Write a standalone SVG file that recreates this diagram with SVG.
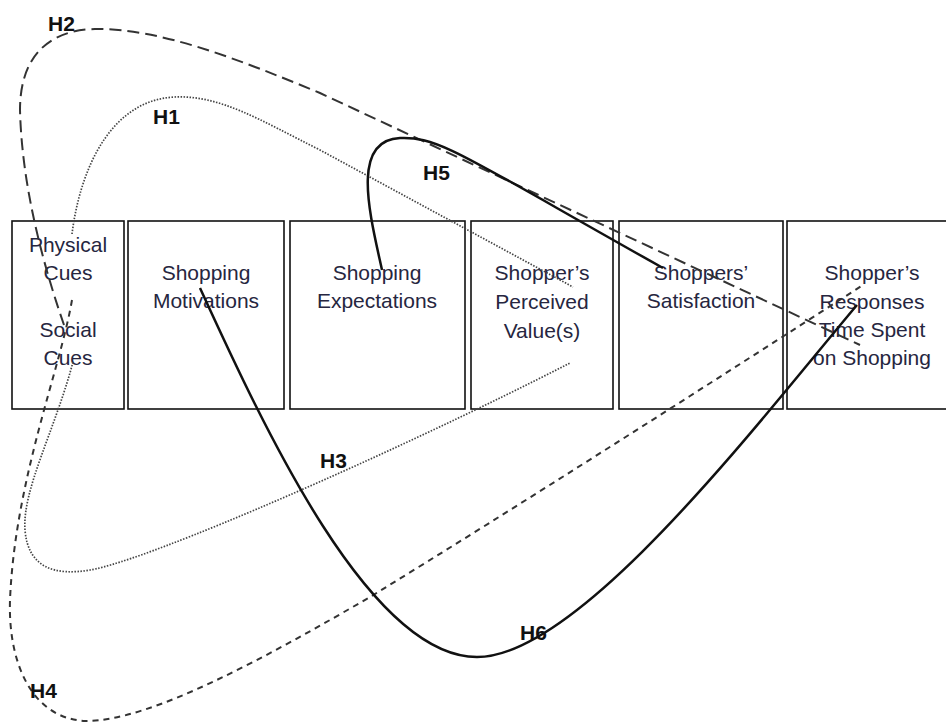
<svg xmlns="http://www.w3.org/2000/svg" width="946" height="722" viewBox="0 0 946 722">
<style>
.box{fill:#fff;stroke:#111;stroke-width:1.6}
.t{font-family:"Liberation Sans",Arial,sans-serif;font-size:21px;fill:#262640;text-anchor:middle}
.lbl{font-family:"Liberation Sans",Arial,sans-serif;font-size:21px;font-weight:bold;fill:#111}
.e{fill:none;stroke-linecap:butt}
.dot{stroke:#444;stroke-width:1.7;stroke-dasharray:1.5 1.5}
.ldash{stroke:#333;stroke-width:2;stroke-dasharray:12 6}
.sdash{stroke:#333;stroke-width:2;stroke-dasharray:6 5}
.solid{stroke:#111;stroke-width:2.5}
</style>
<rect width="946" height="722" fill="#fff"/>
<g id="nodes">
<g id="n-cues"><rect class="box" x="12" y="221" width="112" height="188"/>
<text class="t" x="68" y="252">Physical</text><text class="t" x="68" y="280">Cues</text>
<text class="t" x="68" y="337">Social</text><text class="t" x="68" y="365">Cues</text></g>
<g id="n-motivations"><rect class="box" x="128" y="221" width="156" height="188"/>
<text class="t" x="206" y="280">Shopping</text><text class="t" x="206" y="308">Motivations</text></g>
<g id="n-expectations"><rect class="box" x="290" y="221" width="175" height="188"/>
<text class="t" x="377" y="280">Shopping</text><text class="t" x="377" y="308">Expectations</text></g>
<g id="n-value"><rect class="box" x="471" y="221" width="142" height="188"/>
<text class="t" x="542" y="280">Shopper’s</text><text class="t" x="542" y="309">Perceived</text><text class="t" x="542" y="338">Value(s)</text></g>
<g id="n-satisfaction"><rect class="box" x="619" y="221" width="164" height="188"/>
<text class="t" x="701" y="280">Shoppers’</text><text class="t" x="701" y="308">Satisfaction</text></g>
<g id="n-responses"><rect class="box" x="787" y="221" width="175" height="188"/>
<text class="t" x="872" y="280">Shopper’s</text><text class="t" x="872" y="309">Responses</text><text class="t" x="872" y="337">Time Spent</text><text class="t" x="872" y="365">on Shopping</text></g>
</g>
<g id="connectors">
<g id="h1"><path class="e dot" d="M72,234 C80,170 110,100 175,97 C220,95 260,120 320,150 L573,287"/><text class="lbl" x="153" y="124">H1</text></g>
<g id="h2"><path class="e ldash" d="M64,325 C45,270 22,190 20,110 C20,55 50,30 95,29 C160,28 240,60 320,93 L860,345"/><text class="lbl" x="48" y="31">H2</text></g>
<g id="h3"><path class="e dot" d="M73,362 C55,430 22,490 25,530 C28,568 55,576 90,570 C150,560 400,450 570,363"/><text class="lbl" x="320" y="468">H3</text></g>
<g id="h4"><path class="e sdash" d="M72,300 C60,370 15,480 10,600 C8,660 30,718 85,721 C150,722 270,655 370,597 C520,505 700,390 863,285"/><text class="lbl" x="30" y="698">H4</text></g>
<g id="h5"><path class="e solid" d="M382,270 C370,215 350,140 400,138 C440,136 470,160 663,268"/><text class="lbl" x="423" y="180">H5</text></g>
<g id="h6"><path class="e solid" d="M200,288 C265,430 370,657 477,657 C580,657 760,420 857,305"/><text class="lbl" x="520" y="640">H6</text></g>
</g>
</svg>
